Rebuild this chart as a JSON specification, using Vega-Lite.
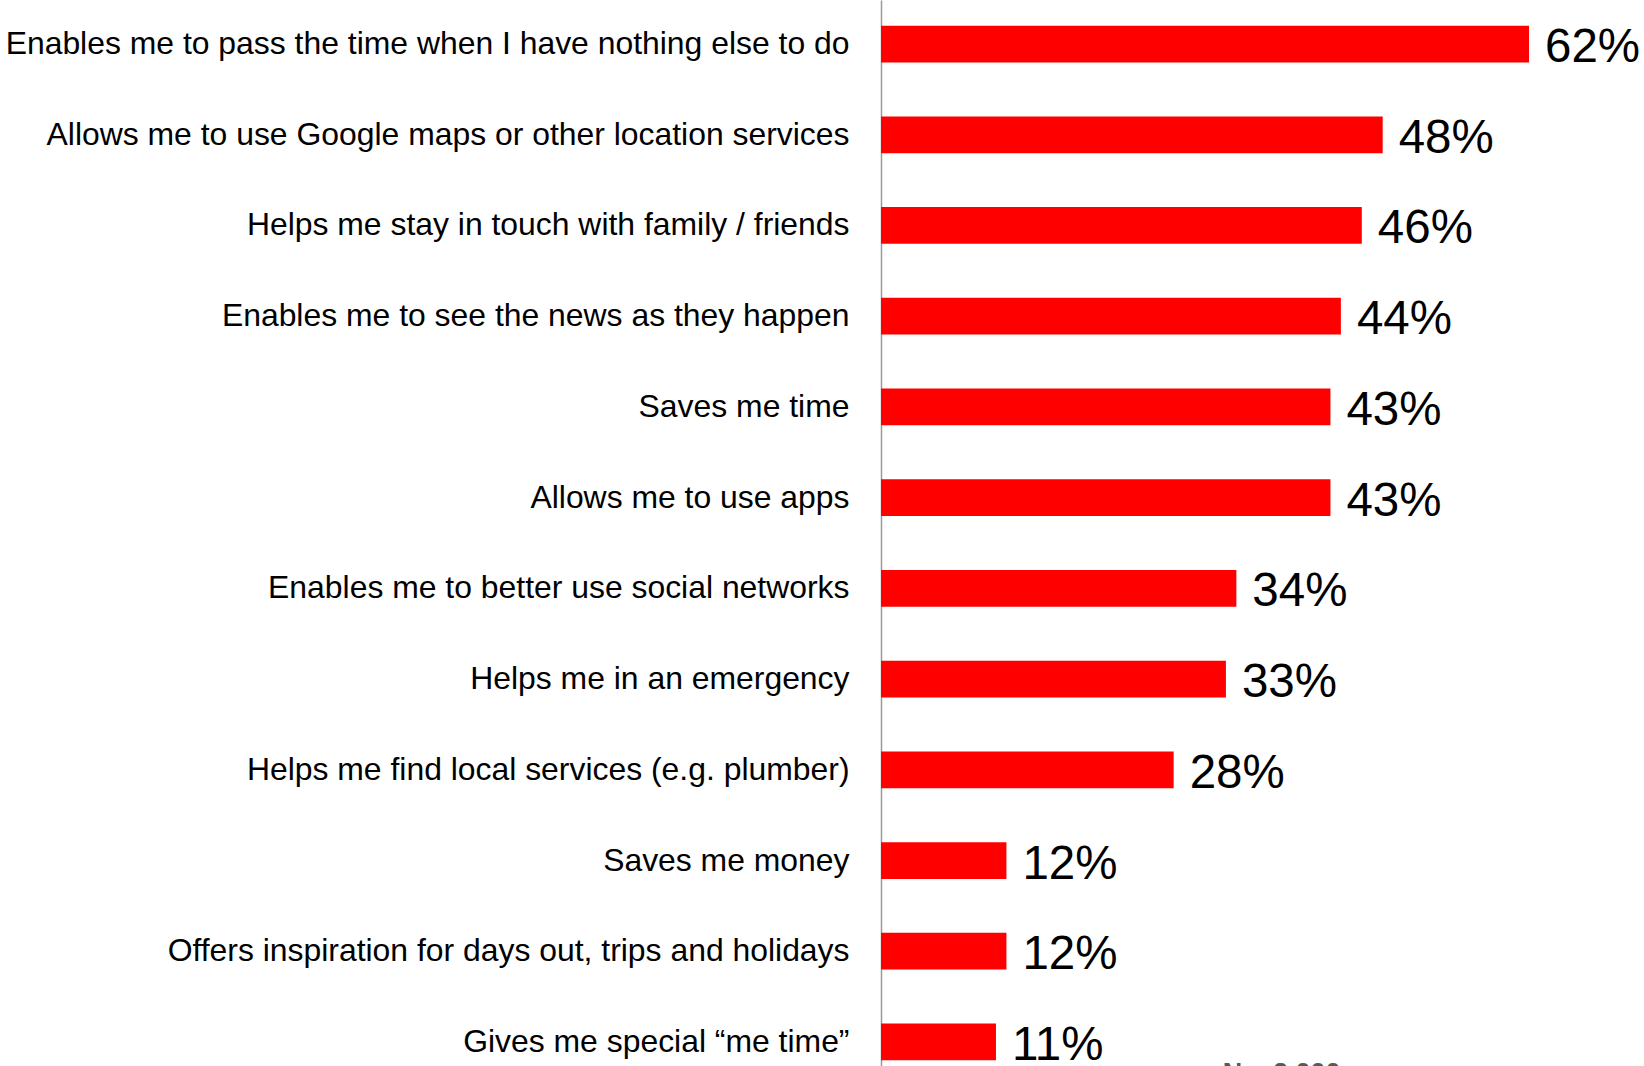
{
  "$schema": "https://vega.github.io/schema/vega-lite/v6.json",
  "autosize": {"type": "none"},
  "width": 763,
  "height": 1066,
  "padding": {"left": 881, "top": 0, "right": 0, "bottom": 0},
  "background": "white",
  "config": {"view": {"stroke": null}, "font": "Liberation Sans"},
  "data": {
    "values": [
      {"reason": "Enables me to pass the time when I have nothing else to do", "value": 0.62},
      {"reason": "Allows me to use Google maps or other location services", "value": 0.48},
      {"reason": "Helps me stay in touch with family / friends", "value": 0.46},
      {"reason": "Enables me to see the news as they happen", "value": 0.44},
      {"reason": "Saves me time", "value": 0.43},
      {"reason": "Allows me to use apps", "value": 0.43},
      {"reason": "Enables me to better use social networks", "value": 0.34},
      {"reason": "Helps me in an emergency", "value": 0.33},
      {"reason": "Helps me find local services (e.g. plumber)", "value": 0.28},
      {"reason": "Saves me money", "value": 0.12},
      {"reason": "Offers inspiration for days out, trips and holidays", "value": 0.12},
      {"reason": "Gives me special \u201cme time\u201d", "value": 0.11}
    ]
  },
  "encoding": {
    "y": {
      "field": "reason",
      "type": "nominal",
      "sort": null,
      "scale": {"range": [0, 1086], "paddingInner": 0.595, "paddingOuter": 0.283},
      "axis": {
        "title": null,
        "ticks": false,
        "tickSize": 0,
        "grid": false,
        "domain": true,
        "domainColor": "#9a9a9a",
        "domainWidth": 1.5,
        "labelFont": "Liberation Sans",
        "labelFontSize": 31.9,
        "labelColor": "#000000",
        "labelPadding": 32,
        "labelLimit": 0,
        "labelBaseline": "alphabetic",
        "labelOffset": 10
      }
    },
    "x": {
      "field": "value",
      "type": "quantitative",
      "scale": {"domain": [0, 0.73], "nice": false, "zero": true},
      "axis": null
    }
  },
  "layer": [
    {"mark": {"type": "bar", "color": "#FF0000"}},
    {
      "mark": {
        "type": "text",
        "align": "left",
        "baseline": "alphabetic",
        "dx": 16,
        "dy": 18,
        "fontSize": 47.5,
        "font": "Liberation Sans",
        "color": "#000000"
      },
      "encoding": {"text": {"field": "value", "type": "quantitative", "format": ".0%"}}
    },
    {
      "data": {"values": [{"note": "N = 2,000", "x": 0.327, "row": "Gives me special \u201cme time\u201d"}]},
      "mark": {
        "type": "text",
        "align": "left",
        "baseline": "alphabetic",
        "dy": 40,
        "fontSize": 27,
        "fontWeight": "bold",
        "font": "Liberation Sans",
        "color": "#595959"
      },
      "encoding": {
        "x": {"field": "x", "type": "quantitative"},
        "y": {"field": "row", "type": "nominal"},
        "text": {"field": "note"}
      }
    }
  ]
}
